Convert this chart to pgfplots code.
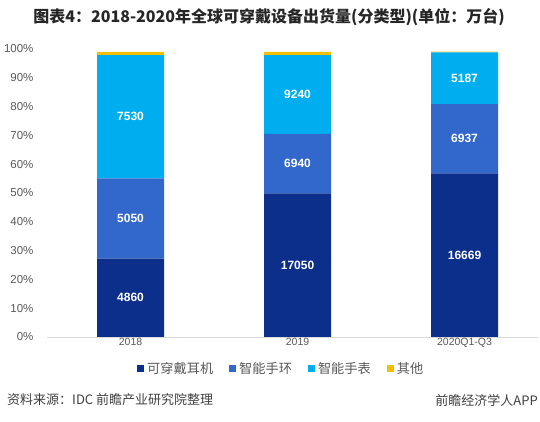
\documentclass[border=0pt]{standalone}
\usepackage{pgfplots}
\pgfplotsset{compat=1.18}
\usepackage{fontspec}
\setmainfont{Liberation Sans}
\newfontfamily\cjk{Noto Sans CJK SC}
\definecolor{cA}{RGB}{13,47,140}
\definecolor{cB}{RGB}{50,103,204}
\definecolor{cC}{RGB}{0,174,239}
\definecolor{cD}{RGB}{242,192,0}
\definecolor{tgray}{RGB}{89,89,89}
\definecolor{ttl}{RGB}{38,38,38}
\begin{document}
\begin{tikzpicture}[x=1pt,y=1pt]
\path[use as bounding box] (0,0) rectangle (540,422);
\begin{axis}[
  at={(47pt,85pt)}, anchor=south west,
  scale only axis, width=491pt, height=288pt,
  ybar stacked, bar width=67pt,
  xmin=-0.5, xmax=2.44, ymin=0, ymax=100,
  xtick={0,1,2}, xticklabels={2018,2019,2020Q1-Q3},
  ytick={0,10,20,30,40,50,60,70,80,90,100},
  yticklabels={0\%,10\%,20\%,30\%,40\%,50\%,60\%,70\%,80\%,90\%,100\%},
  axis lines*=left,
  y axis line style={draw=none},
  x axis line style={draw={rgb,255:red,217;green,217;blue,217},-},
  major tick length=0pt, tick style={draw=none},
  yticklabel style={font=\fontsize{11.5}{13}\selectfont, text=tgray, anchor=east, xshift=-10pt},
  xticklabel style={font=\fontsize{10.5}{12}\selectfont, text=tgray, yshift=2pt},
  legend style={at={(0.477,-0.111)}, anchor=center, draw=none, fill=none,
    legend columns=4, font=\cjk\fontsize{13.2}{15}\selectfont, text=tgray,
    /tikz/every even column/.append style={column sep=14pt},
    /tikz/every odd column/.append style={column sep=1pt}},
  legend image code/.code={\fill[#1,draw=none] (0pt,-3.5pt) rectangle (7pt,3.5pt);},
  clip=false,
]
\addplot[fill=cA, draw=none] coordinates {(0,27.2) (1,49.9) (2,56.8)};
\addplot[fill=cB, draw=none] coordinates {(0,27.9) (1,20.6) (2,24.1)};
\addplot[fill=cC, draw=none] coordinates {(0,42.8) (1,27.4) (2,17.9)};
\addplot[fill=cD, draw=none] coordinates {(0,1.1) (1,1.1) (2,0.3)};
\legend{可穿戴耳机,智能手环,智能手表,其他}
\end{axis}
\begin{axis}[
  at={(47pt,85pt)}, anchor=south west,
  scale only axis, width=491pt, height=288pt,
  xmin=-0.5, xmax=2.44, ymin=0, ymax=100,
  axis lines=none, clip=false,
]
\addplot[draw=none, mark=none, nodes near coords, point meta=explicit symbolic,
  nodes near coords style={anchor=center, text=white, font=\bfseries\fontsize{12}{14}\selectfont}]
  coordinates {(0,13.6)[4860] (0,41.15)[5050] (0,76.5)[7530]
               (1,24.95)[17050] (1,60.2)[6940] (1,84.2)[9240]
               (2,28.4)[16669] (2,68.85)[6937] (2,89.85)[5187]};
\end{axis}
\node[font=\cjk\bfseries\fontsize{16}{18}\selectfont, text=ttl] at (269,405) {图表4：2018-2020年全球可穿戴设备出货量(分类型)(单位：万台)};
\node[anchor=west, font=\cjk\fontsize{13}{15}\selectfont, text={rgb,255:red,64;green,64;blue,64}, inner sep=0pt] at (7,22) {资料来源：IDC 前瞻产业研究院整理};
\node[anchor=east, font=\cjk\fontsize{13}{15}\selectfont, text={rgb,255:red,64;green,64;blue,64}, inner sep=0pt] at (538,22) {前瞻经济学人APP};
\end{tikzpicture}
\end{document}
